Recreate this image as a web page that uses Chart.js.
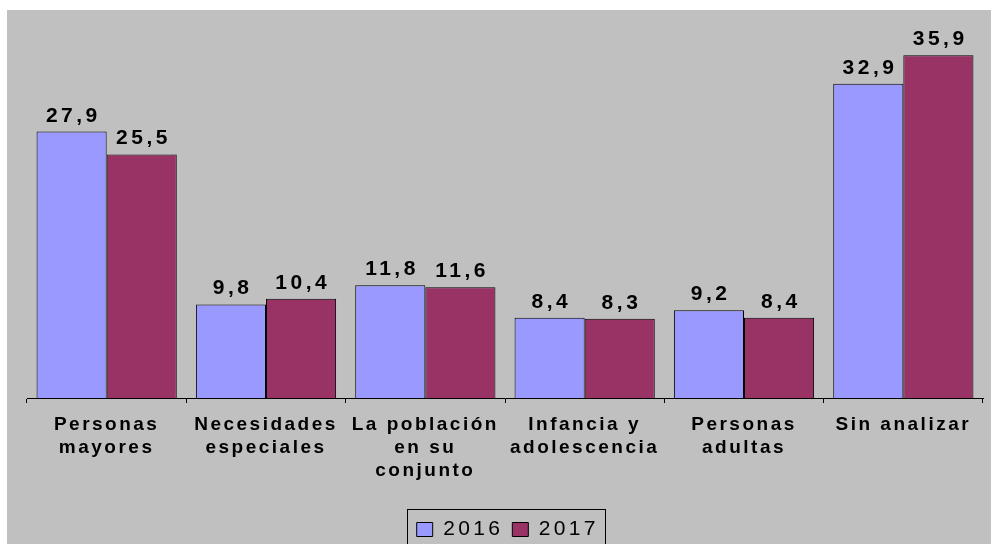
<!DOCTYPE html>
<html>
<head>
<meta charset="utf-8">
<script src="https://cdn.jsdelivr.net/npm/chart.js@4/dist/chart.umd.min.js"></script>
<style>
  html, body { margin: 0; padding: 0; background: #ffffff; overflow: hidden; }
  #wrap { position: absolute; left: 7px; top: 10px; width: 984px; height: 544px; background: #C0C0C0; }
  canvas { display: block; }
</style>
</head>
<body>
<div id="wrap"><canvas id="c" width="984" height="544"></canvas></div>
<script>
const categories = [
  ["Personas", "mayores"],
  ["Necesidades", "especiales"],
  ["La población", "en su", "conjunto"],
  ["Infancia y", "adolescencia"],
  ["Personas", "adultas"],
  ["Sin analizar"]
];
const seriesNames = ["2016", "2017"];
const values2016 = [27.9, 9.8, 11.8, 8.4, 9.2, 32.9];
const values2017 = [25.5, 10.4, 11.6, 8.3, 8.4, 35.9];
const yMax = 40;

const FONT = "'Liberation Sans', Arial, sans-serif";
const TEXT_SPACING = '2.5px';
const LEGEND_SPACING = '3.3px';
const LEGEND_FONT = 21;
const LEGEND_BOX_W = 16;
const AXIS_Y = 388;          // bottom of plot area (canvas px)
const LEG_X = 409.7, LEG_Y = 509;   // first legend item position (canvas px)

const spacingPlugin = {
  id: 'spacing',
  beforeUpdate(chart) { chart.ctx.letterSpacing = TEXT_SPACING; },
  beforeDraw(chart) {
    chart.ctx.letterSpacing = TEXT_SPACING;
    const lg = chart.legend;
    if (lg && !lg._patched) {
      const protoDraw = Object.getPrototypeOf(lg).draw;
      lg.draw = function () {
        const c = this.ctx;
        c.save();
        c.letterSpacing = LEGEND_SPACING;
        protoDraw.call(this);
        c.restore();
      };
      lg._patched = true;
    }
  }
};

const legendPlace = {
  id: 'legendPlace',
  afterUpdate(chart) {
    const lg = chart.legend;
    const hb = lg.legendHitBoxes;
    if (!hb || !hb.length) return;
    const dx = LEG_X - hb[0].left, dy = LEG_Y - hb[0].top;
    lg.left += dx; lg.right += dx; lg.top += dy; lg.bottom += dy;
    hb.forEach(h => { h.left += dx; h.top += dy; });
  },
  afterDraw(chart) {
    const lg = chart.legend;
    const hb = lg.legendHitBoxes;
    if (!hb || !hb.length) return;
    const ctx = chart.ctx;
    ctx.save();
    ctx.letterSpacing = LEGEND_SPACING;
    ctx.font = LEGEND_FONT + 'px ' + FONT;
    const last = hb[hb.length - 1];
    const lastText = chart.legend.legendItems[hb.length - 1].text;
    const left = hb[0].left - 9.4;
    const right = last.left + LEGEND_BOX_W + LEGEND_FONT / 2 + ctx.measureText(lastText).width + 10;
    const top = hb[0].top - 9.8;
    ctx.strokeStyle = '#000000';
    ctx.lineWidth = 1;
    ctx.strokeRect(Math.round(left) + 0.5, Math.round(top) + 0.5, Math.round(right - left), 100);
    ctx.restore();
  }
};

const dataLabels = {
  id: 'dataLabels',
  afterDatasetsDraw(chart) {
    const ctx = chart.ctx;
    ctx.save();
    ctx.letterSpacing = '3.5px';
    ctx.font = "bold 21px " + FONT;
    ctx.fillStyle = '#000000';
    ctx.textAlign = 'center';
    ctx.textBaseline = 'alphabetic';
    chart.data.datasets.forEach((ds, di) => {
      const meta = chart.getDatasetMeta(di);
      meta.data.forEach((bar, i) => {
        const txt = ds.data[i].toFixed(1).replace('.', ',');
        ctx.fillText(txt, bar.x + 1.75, bar.y - 10);
      });
    });
    ctx.restore();
  }
};

new Chart(document.getElementById('c'), {
  type: 'bar',
  data: {
    labels: categories,
    datasets: [
      { label: seriesNames[0], data: values2016, backgroundColor: '#9999FF', borderColor: '#000000', borderWidth: 1, borderSkipped: 'bottom' },
      { label: seriesNames[1], data: values2017, backgroundColor: '#993366', borderColor: '#000000', borderWidth: 1, borderSkipped: 'bottom' }
    ]
  },
  options: {
    responsive: false,
    animation: false,
    devicePixelRatio: 1,
    datasets: { bar: { categoryPercentage: 0.88, barPercentage: 1.0 } },
    layout: { padding: { left: 20, right: 8, top: 6, bottom: 0 } },
    scales: {
      x: {
        offset: true,
        grid: { display: true, drawOnChartArea: false, drawTicks: true, tickLength: 5, color: '#000000', offset: true },
        border: { display: true, color: '#000000', width: 1 },
        ticks: { color: '#000000', font: { family: FONT, size: 19, weight: 'bold', lineHeight: 1.22 }, padding: 10, maxRotation: 0, autoSkip: false },
        afterFit(scale) { scale.height = scale.chart.height - AXIS_Y - scale.chart.legend.height; }
      },
      y: {
        display: false,
        min: 0,
        max: yMax
      }
    },
    plugins: {
      legend: {
        position: 'bottom',
        labels: { color: '#000000', font: { family: FONT, size: LEGEND_FONT }, boxWidth: LEGEND_BOX_W, boxHeight: 14, padding: 9.2 }
      },
      tooltip: { enabled: false }
    }
  },
  plugins: [spacingPlugin, dataLabels, legendPlace]
});
</script>
</body>
</html>
